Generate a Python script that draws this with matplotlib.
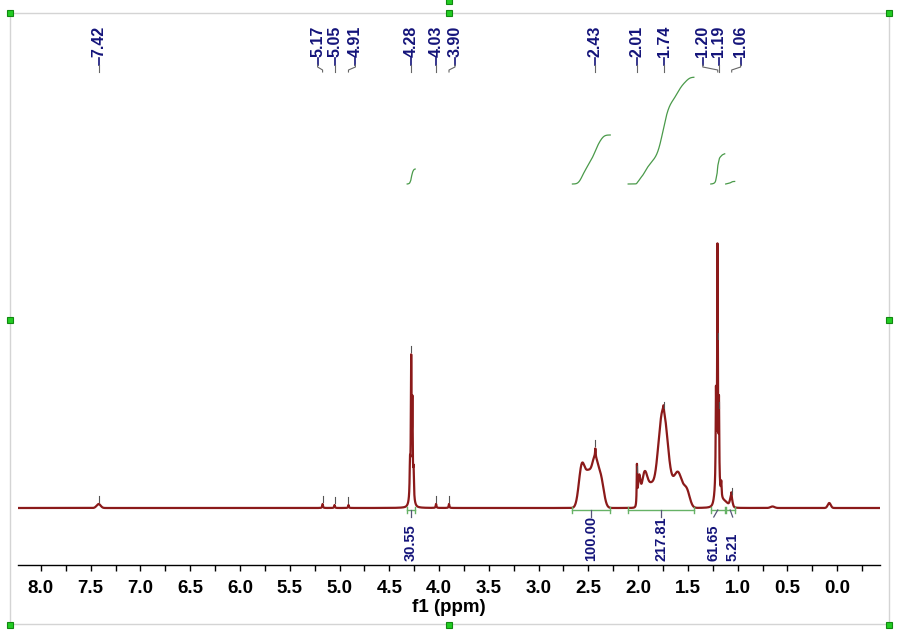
import numpy as np
import matplotlib.pyplot as plt
from matplotlib.ticker import MultipleLocator, FormatStrFormatter
from matplotlib.patches import Rectangle

plt.rcParams['font.family'] = ['Liberation Sans', 'DejaVu Sans']

# peak model: centre (ppm), height (px above baseline), width (ppm), shape
peak_ppm = [7.42, 5.17, 5.05, 4.91,
            4.292, 4.280, 4.268, 4.256, 4.275,
            4.03, 3.90,
            2.565, 2.50, 2.435, 2.375, 2.43,
            2.012, 1.99, 1.935, 1.87, 1.75, 1.745, 1.60, 1.51,
            1.218, 1.203, 1.188, 1.205, 1.165, 1.15,
            1.065, 1.063, 0.65, 0.08]
peak_height = [4, 4, 3, 3,
               32, 135, 90, 26, 6,
               4, 4,
               42, 30, 45, 28, 8,
               38, 26, 35, 17, 98, 5, 35, 15,
               90, 232, 80, 20, 14, 7,
               9, 5, 1.5, 5]
peak_width = [0.02, 0.004, 0.004, 0.004,
              0.004, 0.004, 0.004, 0.004, 0.02,
              0.004, 0.004,
              0.03, 0.03, 0.03, 0.03, 0.003,
              0.003, 0.012, 0.03, 0.03, 0.05, 0.003, 0.045, 0.03,
              0.0035, 0.0035, 0.0035, 0.02, 0.004, 0.05,
              0.012, 0.003, 0.02, 0.015]
peak_shape = ['G', 'L', 'L', 'L',
              'L', 'L', 'L', 'L', 'G',
              'L', 'L',
              'G', 'G', 'G', 'G', 'L',
              'L', 'G', 'G', 'G', 'G', 'L', 'G', 'G',
              'L', 'L', 'L', 'G', 'L', 'G',
              'G', 'L', 'G', 'G']

# peak labels
label_ppm = [7.42, 5.17, 5.05, 4.91, 4.28, 4.03, 3.90, 2.43, 2.01, 1.74, 1.20, 1.19, 1.06]
label_pos = [7.42, 5.22, 5.05, 4.84, 4.28, 4.03, 3.84, 2.43, 2.01, 1.74, 1.35, 1.19, 0.97]

# integrals
int_from = [4.32, 2.66, 2.10, 1.27, 1.12]
int_to = [4.24, 2.28, 1.44, 1.13, 1.03]
int_value = [30.55, 100.00, 217.81, 61.65, 5.21]
int_label_pos = [4.28, 2.47, 1.77, 1.24, 1.05]

ppm = np.linspace(8.23, -0.43, 40000)
spec = np.zeros_like(ppm)
for c, h, w, s in zip(peak_ppm, peak_height, peak_width, peak_shape):
    if s == 'L':
        spec += h / (1 + ((ppm - c) / w) ** 2)
    else:
        spec += h * np.exp(-(ppm - c) ** 2 / (2 * w ** 2))

fig = plt.figure(figsize=(9, 6.34), dpi=100)
ax = fig.add_axes([18 / 900, 69 / 634, 862 / 900, 551 / 634])
ax.set_xlim(8.23, -0.43)
ax.set_ylim(-57, 494)

ax.plot(ppm, spec, color='#8b1a1a', lw=1.6)

navy = '#14147a'
# peak pick markers, labels and connectors
for p, t in zip(label_ppm, label_pos):
    v = np.interp(p, ppm[::-1], spec[::-1])
    ax.plot([p, p], [v + 2, v + 8], color='#555555', lw=0.8)
    ax.plot([t, t], [450, 443], color=navy, lw=1.2)
    ax.plot([t, t, p, p], [443, 441, 438, 436], color='#666666', lw=0.8)
    ax.text(t, 451, '%.2f' % p, rotation=90, ha='center', va='bottom',
            color=navy, fontsize=11.5, fontweight='bold')

# integral curves, bars and values
for a, b, val, lp in zip(int_from, int_to, int_value, int_label_pos):
    m = (ppm <= a) & (ppm >= b)
    cum = np.cumsum(spec[m])
    cum = cum / cum[-1] * val * 0.49 + 324
    ax.plot(ppm[m], cum, color='#4a9a4a', lw=0.9)
    ax.plot([a, b], [-2, -2], color='#66b266', lw=1)
    ax.plot([a, a], [-5, 1], color='#66b266', lw=1)
    ax.plot([b, b], [-5, 1], color='#66b266', lw=1)
    mid = (a + b) / 2
    ax.plot([mid, lp], [-2, -9], color='#555577', lw=0.9)
    ax.text(lp, -53, '%.2f' % val, rotation=90, ha='center', va='bottom',
            color=navy, fontsize=10.5, fontweight='bold')

for side in ['top', 'left', 'right']:
    ax.spines[side].set_visible(False)
ax.spines['bottom'].set_linewidth(1)
ax.set_yticks([])
ax.xaxis.set_major_locator(MultipleLocator(0.5))
ax.xaxis.set_minor_locator(MultipleLocator(0.25))
ax.xaxis.set_major_formatter(FormatStrFormatter('%.1f'))
ax.tick_params(axis='x', which='both', direction='out', length=4, width=1, pad=7)
for lab in ax.get_xticklabels():
    lab.set_fontsize(13.5)
    lab.set_fontweight('bold')
ax.set_xlabel('f1 (ppm)', fontsize=13.5, fontweight='bold', labelpad=1)
ax.patch.set_alpha(0)

# object frame with selection handles
fig.patches.append(Rectangle((10 / 900, 1 - 624 / 634), 879 / 900, 611 / 634,
                             transform=fig.transFigure, fill=False,
                             edgecolor='#d4d4d4', lw=1))
handles = [(10, 13), (449, 13), (889, 13), (10, 320), (889, 320),
           (10, 625), (449, 625), (889, 625), (449, 1)]
for hx, hy in handles:
    fig.patches.append(Rectangle(((hx - 3) / 900, 1 - (hy + 3) / 634), 6 / 900, 6 / 634,
                                 transform=fig.transFigure, facecolor='#22cc22',
                                 edgecolor='#118811', lw=0.8))

fig.savefig('out.png', dpi=100)
